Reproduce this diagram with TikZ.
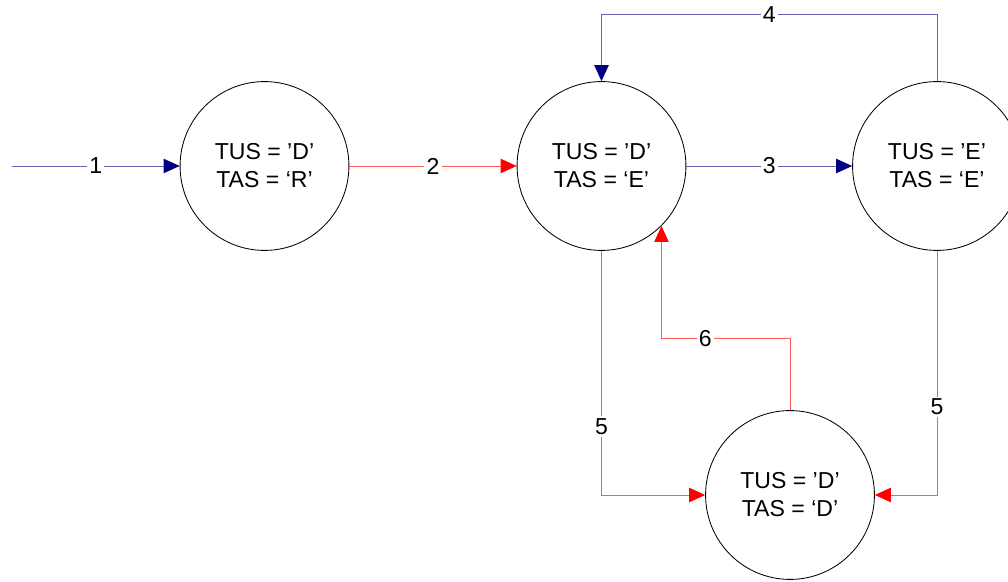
\documentclass[tikz,border=0pt]{standalone}
\usepackage{fontspec}
\setmainfont{Liberation Sans}
\usepackage{tikz}
\usetikzlibrary{arrows.meta}
\tikzstyle{state} = [circle,draw=black,line width=0.6pt,minimum size=4.22cm,inner sep=0pt,align=center,font=\fontsize{16.4}{20}\selectfont]
\tikzstyle{lbl} = [fill=white,inner sep=1.5pt,font=\fontsize{16.4}{20}\selectfont]
\tikzstyle{bluearrow} = [line width=0.6pt,draw=blue!50!black!60!white,-{Triangle[length=0.4cm,width=0.36cm,fill=navy,color=navy]}]
\tikzstyle{redarrow} = [line width=0.6pt,draw=red!65!white,-{Triangle[length=0.4cm,width=0.36cm,fill=red,color=red]}]
\definecolor{navy}{RGB}{0,0,128}
\begin{document}
\begin{tikzpicture}[x=0.025cm,y=-0.025cm]
\useasboundingbox (0,0) rectangle (1008,582);
\coordinate (in) at (12,166);
\node (s1) [state] at (264.5,166) {TUS = ’D’\\TAS = ‘R’};
\node (s2) [state] at (601.5,166) {TUS = ’D’\\TAS = ‘E’};
\node (s3) [state] at (937,166) {TUS = ’E’\\TAS = ‘E’};
\node (s4) [state] at (790,495) {TUS = ’D’\\TAS = ‘D’};

\draw [bluearrow] (in) -- node[lbl] {1} (s1);
\draw [redarrow] (s1) -- node[lbl] {2} (s2);
\draw [bluearrow] (s2) -- node[lbl] {3} (s3);
\draw [bluearrow] (s3.north) -- ++(0,-67) -| node[lbl,pos=0.25] {4} (s2.north);
\draw [redarrow] (s2.south) |- node[lbl,pos=0.36] {5} (s4.west);
\draw [redarrow] (s3.south) |- node[lbl,pos=0.32] {5} (s4.east);
\draw [redarrow] (s4.north) -- ++(0,-72) -| node[lbl,pos=0.33] {6} (s2.-45);
\end{tikzpicture}
\end{document}
